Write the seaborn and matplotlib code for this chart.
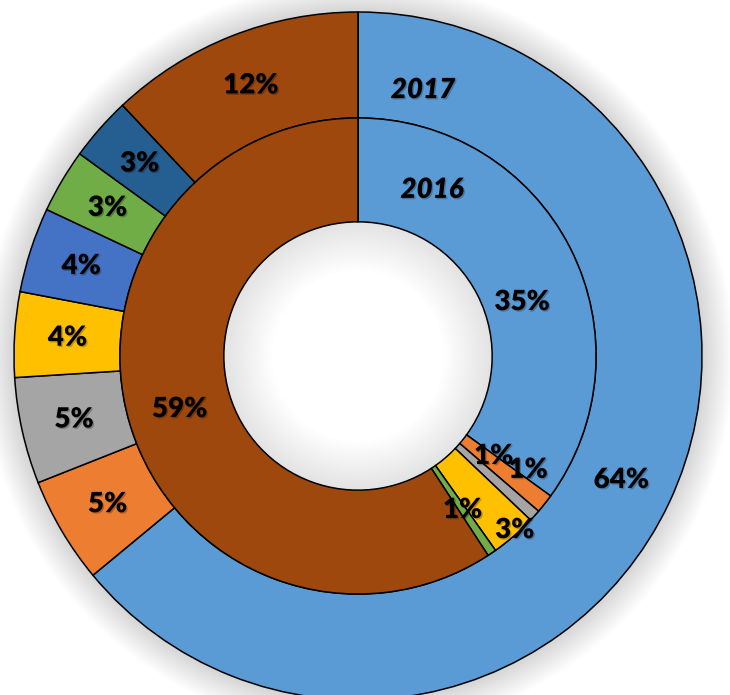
import numpy as np
import matplotlib.pyplot as plt
import matplotlib.patheffects as pe
import seaborn as sns
from matplotlib.patches import Wedge

sns.set_theme(style="white")
plt.rcParams['font.family'] = ['Lato', 'DejaVu Sans']

# Office palette, one colour per category (same order in both rings)
colors = ['#5B9BD5', '#ED7D31', '#A5A5A5', '#FFC000', '#4472C4', '#70AD47', '#255E91', '#9E480E']
share_2017 = [64, 5, 5, 4, 4, 3, 3, 12]
share_2016 = [35, 1.3, 0.8, 3.1, 0, 0.6, 0, 59.2]
ring_names = ['2017', '2016']

# drop empty slices so no stray edges are drawn
def nonzero(vals):
    keep = [i for i, v in enumerate(vals) if v > 0]
    return [vals[i] for i in keep], [colors[i] for i in keep]

fig = plt.figure(figsize=(7.3, 6.95), dpi=100)
ax = fig.add_axes([0, 0, 1, 1])

# soft glow around the outer ring
for d in np.linspace(0.005, 0.09, 14):
    ax.add_patch(Wedge((0, 0), 1 + d, 0, 360, width=d + 0.01, color='black', alpha=0.011, lw=0, zorder=0))
# inner shadow in the hole
for w in np.linspace(0.01, 0.14, 14):
    ax.add_patch(Wedge((0, 0), 0.39, 0, 360, width=w, color='black', alpha=0.009, lw=0, zorder=0))

shadow = [pe.withSimplePatchShadow(offset=(1, -1), alpha=0.25)]
txt = dict(fontsize=20, fontweight='heavy', color='black', path_effects=shadow)
edge = dict(edgecolor='black', linewidth=1.1)

v_out, c_out = nonzero(share_2017)
ax.pie(v_out, colors=c_out, radius=1, startangle=90, counterclock=False,
       wedgeprops=dict(width=0.308, **edge), autopct=lambda p: f'{p:.0f}%',
       pctdistance=0.846, textprops=txt)

v_in, c_in = nonzero(share_2016)
wedges, _, autotexts = ax.pie(v_in, colors=c_in, radius=0.692, startangle=90, counterclock=False,
                              wedgeprops=dict(width=0.302, **edge), autopct=lambda p: f'{p:.0f}%',
                              pctdistance=0.782, textprops=txt)

# Excel nudged the crowded inner labels; (radius, angle) per label
moved = {0: (0.502, 18.2), 1: (0.49, -36.4), 2: (0.595, -33.8), 3: (0.681, -48)}
for i, (r, a) in moved.items():
    autotexts[i].set_position((r * np.cos(np.radians(a)), r * np.sin(np.radians(a))))

ax.text(0.189, 0.773, ring_names[0], ha='center', va='center', style='italic', **txt)
ax.text(0.215, 0.483, ring_names[1], ha='center', va='center', style='italic', **txt)

ax.set_aspect('auto')
ax.set_xlim(-1.0407, 1.0814)
ax.set_ylim(-0.9855, 1.0349)
ax.axis('off')

fig.savefig('out.png', dpi=100)
